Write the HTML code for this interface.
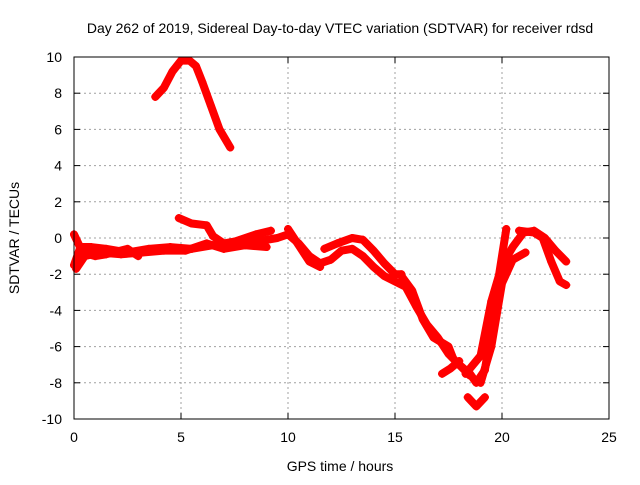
<!DOCTYPE html>
<html><head><meta charset="utf-8"><style>
body{margin:0;background:#fff}
svg text{font-family:"Liberation Sans",sans-serif;font-size:14px;fill:#000}
</style></head><body>
<svg id="chart" width="640" height="480">
<text x="340" y="33" text-anchor="middle">Day 262 of 2019, Sidereal Day-to-day VTEC variation (SDTVAR) for receiver rdsd</text>
<text x="340" y="471" text-anchor="middle">GPS time / hours</text>
<text transform="translate(19,238) rotate(-90)" text-anchor="middle">SDTVAR / TECUs</text>
<g id="grid"></g><g id="ticks"></g><g id="series"></g>
<rect x="74" y="57" width="535" height="362" fill="none" stroke="#000" stroke-width="1"/>
</svg>
<script>
const xTicks=[0,5,10,15,20,25];
const yTicks=[10,8,6,4,2,0,-2,-4,-6,-8,-10];
const trackArc=[[3.8,7.8],[4.2,8.3],[4.6,9.2],[5.0,9.8],[5.4,9.8],[5.7,9.5],[6.0,8.6],[6.4,7.3],[6.8,6.0],[7.3,5.0]];
const trackMain=[[0,-1.5],[0.3,-0.5],[0.8,-0.5],[1.5,-0.6],[2.5,-0.8],[3.5,-0.6],[4.5,-0.5],[5.5,-0.6],[6.5,-0.4],[7.5,-0.3],[8.5,-0.2],[9.5,0.0],[10,0.2],[10.5,-0.3],[11,-1.0],[11.5,-1.4],[12,-1.2],[12.5,-0.7],[13,-0.6],[13.5,-1.0],[14,-1.6],[14.5,-2.1],[15,-2.4],[15.5,-2.7],[16,-3.8],[16.5,-4.8],[17,-5.5],[17.5,-6.4],[18,-7.0],[18.5,-7.6]];
const trackEarly=[[0,0.2],[0.4,-0.8],[1.0,-1.0],[1.5,-0.9],[2.5,-0.6],[3.0,-1.0]];
const trackLow=[[0.1,-1.7],[0.5,-1.0],[1.2,-0.8],[2.2,-0.9],[3.2,-0.8],[4.2,-0.7],[5.2,-0.7],[6.2,-0.3],[7.0,-0.6],[8.0,-0.4],[9.0,-0.5]];
const trackMid=[[4.9,1.1],[5.5,0.8],[6.2,0.7],[6.5,0.1],[7,-0.3],[7.5,-0.2],[8.5,0.2],[9.2,0.4]];
const trackB2=[[10,0.5],[10.5,-0.4],[11,-1.3],[11.5,-1.6]];
const trackB3=[[11.7,-0.6],[12.3,-0.3],[13,0.0],[13.5,-0.1],[14,-0.7],[14.5,-1.4],[15,-2.0],[15.3,-2.0]];
const trackB4=[[15.3,-2.1],[15.8,-2.9],[16.3,-4.5],[16.8,-5.5],[17.5,-6.0],[17.7,-6.6]];
const trackCross=[[17.2,-7.5],[17.6,-7.2],[18.0,-6.8]];
const trackUp1=[[18.0,-7.0],[18.5,-7.5],[18.8,-8.0],[19.2,-7.3],[19.5,-5.0],[19.8,-2.5],[20.2,0.5]];
const trackUp2=[[18.3,-7.5],[19,-6.5],[19.5,-3.5],[20,-1.5],[20.5,-0.5],[21,0.3],[21.5,0.4],[22,0.0],[22.5,-0.7],[23,-1.3]];
const trackUp3=[[19,-8.0],[19.5,-6],[20,-2.5],[20.5,-1.2],[21.1,-0.8]];
const trackLate=[[20.8,0.4],[21.5,0.3],[21.9,0],[22.3,-1.3],[22.7,-2.4],[23,-2.6]];
const trackDip=[[18.4,-8.8],[18.8,-9.3],[19.2,-8.8]];
const tracks=[trackArc,trackMain,trackEarly,trackLow,trackMid,trackB2,trackB3,trackB4,trackCross,trackUp1,trackUp2,trackUp3,trackLate,trackDip];
const X=t=>74+t*535/25, Y=v=>238-v*362/20;
const NS="http://www.w3.org/2000/svg";
const grid=document.getElementById('grid'),ticks=document.getElementById('ticks'),ser=document.getElementById('series');
function mk(tag,attrs,parent){const e=document.createElementNS(NS,tag);for(const k in attrs)e.setAttribute(k,attrs[k]);parent.appendChild(e);return e;}
xTicks.forEach(t=>{const x=X(t);
 if(t>0&&t<25){const g=mk('line',{x1:x,x2:x,y1:57,y2:419,stroke:'#a0a0a0','stroke-dasharray':'2,3'},grid);
 
 }
 mk('line',{x1:x,x2:x,y1:419,y2:413,stroke:'#000'},ticks);mk('line',{x1:x,x2:x,y1:57,y2:63,stroke:'#000'},ticks);
 const l=mk('text',{x:x,y:442,'text-anchor':'middle'},ticks);l.textContent=t;
 
 });
yTicks.forEach(v=>{const y=Y(v);
 if(v>-10&&v<10){const g=mk('line',{x1:74,x2:609,y1:y,y2:y,stroke:'#a0a0a0','stroke-dasharray':'2,3'},grid);
 
 }
 mk('line',{x1:74,x2:80,y1:y,y2:y,stroke:'#000'},ticks);mk('line',{x1:609,x2:603,y1:y,y2:y,stroke:'#000'},ticks);
 const l=mk('text',{x:62,y:y+5,'text-anchor':'end'},ticks);l.textContent=v;
 
 });
tracks.forEach(tr=>{
 const p=mk('polyline',{points:tr.map(d=>X(d[0])+','+Y(d[1])).join(' '),fill:'none',stroke:'#ff0000','stroke-width':8,'stroke-linejoin':'round','stroke-linecap':'round'},ser);
 
 
 tr.forEach(d=>{const x=X(d[0]),y=Y(d[1]);
  const m=mk('path',{d:`M${x-4},${y}H${x+4}M${x},${y-4}V${y+4}`,stroke:'#ff0000','stroke-width':2},ser);
  
  });
});
</script>
</body></html>
